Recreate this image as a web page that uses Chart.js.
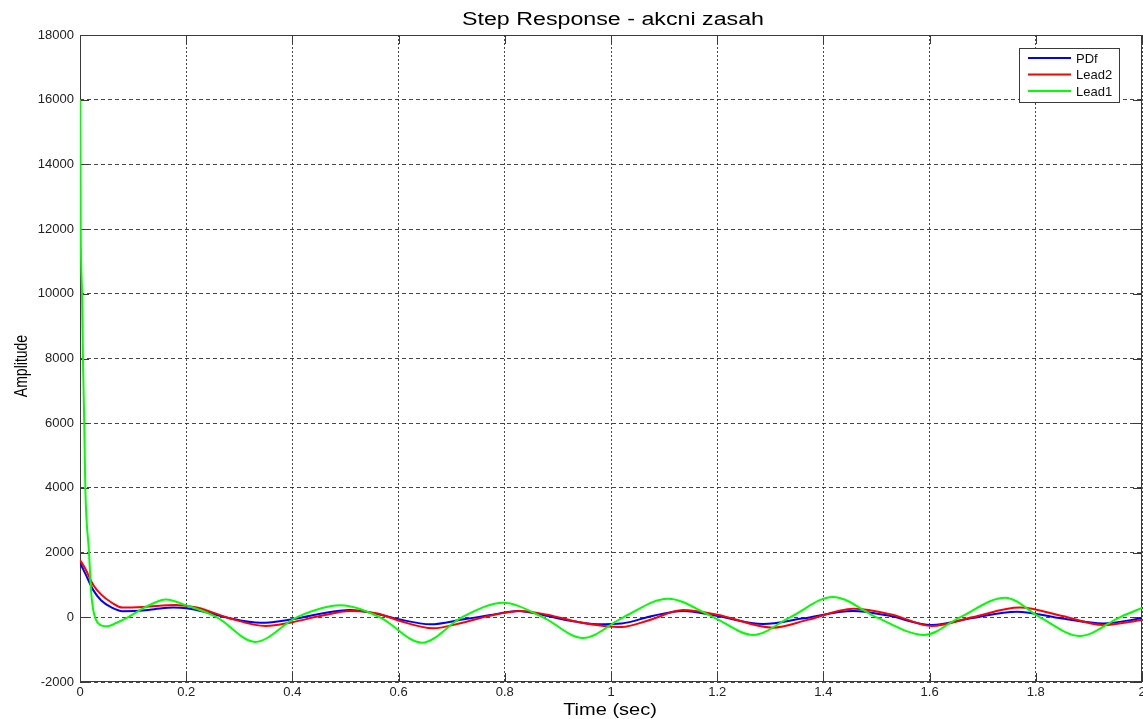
<!DOCTYPE html>
<html>
<head>
<meta charset="utf-8">
<script src="https://cdn.jsdelivr.net/npm/chart.js@4.4.1/dist/chart.umd.min.js"></script>
<style>
  html, body { margin: 0; padding: 0; background: #fff; }
  #wrap { width: 1143px; height: 719px; }
</style>
</head>
<body>
<div id="wrap"><canvas id="c" width="1143" height="719"></canvas></div>
<script>
// Step response of the control action for three controllers
const seriesNames = ['PDf', 'Lead2', 'Lead1'];
const seriesColors = ['#0000ff', '#ff0000', '#00ff00'];

const timePDf = [0, 0.01, 0.025, 0.04, 0.06, 0.08, 0.11, 0.14, 0.176, 0.2, 0.24, 0.28, 0.34, 0.4, 0.45, 0.508, 0.56, 0.6, 0.66, 0.72, 0.77, 0.825, 0.87, 0.91, 0.975, 1.02, 1.08, 1.136, 1.2, 1.287, 1.36, 1.456, 1.52, 1.604, 1.68, 1.764, 1.85, 1.927, 2.0];
const ampPDf = [1680, 1350, 840, 520, 300, 190, 200, 250, 300, 280, 150, -20, -170, -60, 100, 225, 100, -60, -215, -70, 60, 195, 80, -70, -215, -190, 50, 195, 40, -210, -40, 195, 60, -240, -20, 175, -40, -190, -30];

const timeLead2 = [0, 0.01, 0.025, 0.04, 0.06, 0.08, 0.12, 0.18, 0.22, 0.28, 0.35, 0.4, 0.45, 0.51, 0.56, 0.6, 0.665, 0.72, 0.77, 0.83, 0.88, 0.94, 1.02, 1.07, 1.136, 1.2, 1.305, 1.37, 1.456, 1.53, 1.604, 1.68, 1.77, 1.85, 1.927, 2.0];
const ampLead2 = [1770, 1500, 1000, 700, 450, 300, 320, 380, 300, -20, -270, -150, 30, 195, 120, -100, -340, -170, 40, 195, 80, -150, -300, -100, 225, 80, -320, -80, 265, 80, -270, 0, 300, 40, -240, -80];

const timeLead1 = [0, 0.0013, 0.0038, 0.0056, 0.008, 0.010, 0.017, 0.0207, 0.025, 0.034, 0.05, 0.07, 0.09, 0.125, 0.162, 0.2, 0.258, 0.33, 0.408, 0.49, 0.565, 0.644, 0.719, 0.797, 0.872, 0.947, 1.023, 1.107, 1.193, 1.268, 1.337, 1.418, 1.5, 1.59, 1.657, 1.742, 1.808, 1.883, 1.958, 2.0];
const ampLead1 = [16000, 12000, 10000, 8000, 6000, 4000, 2000, 845, 225, -180, -280, -160, 0, 330, 550, 370, 0, -760, 0, 370, 0, -785, 0, 450, 0, -640, 0, 575, 0, -545, 0, 630, 0, -545, 0, 605, 0, -580, 0, 290];

const xTicks = [0, 0.2, 0.4, 0.6, 0.8, 1, 1.2, 1.4, 1.6, 1.8, 2];
const yTicks = [-2000, 0, 2000, 4000, 6000, 8000, 10000, 12000, 14000, 16000, 18000];

const titleText = 'Step Response - akcni zasah';
const xLabel = 'Time (sec)';
const yLabel = 'Amplitude';

const FONT = '"Liberation Sans", Arial, Helvetica, sans-serif';
const AXIS_COLOR = '#3a3a3a';

function points(ts, vs) { return ts.map((t, i) => ({ x: t, y: vs[i] })); }

// Box around the axes plus inward tick marks on all four sides
const axesBox = {
  id: 'axesBox',
  beforeDatasetsDraw(chart) {
    const { ctx, chartArea: a, scales } = chart;
    ctx.save();
    ctx.strokeStyle = AXIS_COLOR;
    ctx.lineWidth = 1;
    ctx.setLineDash([]);
    ctx.strokeRect(a.left + 0.5, a.top + 0.5, a.right - a.left - 1, a.bottom - a.top - 1);
    const len = 9;
    ctx.beginPath();
    xTicks.forEach(v => {
      const px = Math.round(scales.x.getPixelForValue(v)) + 0.5;
      ctx.moveTo(px, a.bottom); ctx.lineTo(px, a.bottom - len);
      ctx.moveTo(px, a.top); ctx.lineTo(px, a.top + len);
    });
    yTicks.forEach(v => {
      const py = Math.round(scales.y.getPixelForValue(v)) + 0.5;
      ctx.moveTo(a.left, py); ctx.lineTo(a.left + len, py);
      ctx.moveTo(a.right, py); ctx.lineTo(a.right - len, py);
    });
    ctx.stroke();
    ctx.restore();
  }
};

// Title, axis titles and the legend box
const annotations = {
  id: 'annotations',
  afterDraw(chart) {
    const { ctx } = chart;
    ctx.save();
    ctx.fillStyle = '#000';

    // title
    ctx.save();
    ctx.translate(613, 25);
    ctx.scale(1.29, 1);
    ctx.font = '18px ' + FONT;
    ctx.textAlign = 'center';
    ctx.textBaseline = 'alphabetic';
    ctx.fillText(titleText, 0, 0);
    ctx.restore();

    // x axis title
    ctx.save();
    ctx.translate(610, 715);
    ctx.scale(1.25, 1);
    ctx.font = '16px ' + FONT;
    ctx.textAlign = 'center';
    ctx.textBaseline = 'alphabetic';
    ctx.fillText(xLabel, 0, 0);
    ctx.restore();

    // y axis title
    ctx.save();
    ctx.translate(27, 366);
    ctx.rotate(-Math.PI / 2);
    ctx.scale(1, 1.35);
    ctx.font = '14px ' + FONT;
    ctx.textAlign = 'center';
    ctx.textBaseline = 'alphabetic';
    ctx.fillText(yLabel, 0, 0);
    ctx.restore();

    // legend
    const bx = 1019, by = 48, bw = 100, bh = 54;
    ctx.fillStyle = '#fff';
    ctx.fillRect(bx, by, bw, bh);
    ctx.strokeStyle = AXIS_COLOR;
    ctx.lineWidth = 1;
    ctx.strokeRect(bx + 0.5, by + 0.5, bw, bh);
    const rows = [58, 74.5, 91];
    ctx.font = '13px ' + FONT;
    ctx.textAlign = 'left';
    ctx.textBaseline = 'middle';
    seriesNames.forEach((name, i) => {
      ctx.strokeStyle = seriesColors[i];
      ctx.lineWidth = 2;
      ctx.beginPath();
      ctx.moveTo(1028, rows[i]);
      ctx.lineTo(1071, rows[i]);
      ctx.stroke();
      ctx.fillStyle = '#111';
      ctx.fillText(name, 1076, rows[i] + 1);
    });
    ctx.restore();
  }
};

const seriesTimes = [timePDf, timeLead2, timeLead1];
const seriesAmps = [ampPDf, ampLead2, ampLead1];

new Chart(document.getElementById('c'), {
  type: 'line',
  data: {
    datasets: seriesNames.map((name, i) => ({
      label: name,
      data: points(seriesTimes[i], seriesAmps[i]),
      borderColor: seriesColors[i],
      backgroundColor: seriesColors[i],
      borderWidth: 2,
      pointRadius: 0,
      fill: false,
      cubicInterpolationMode: 'monotone',
      order: 2 - i
    }))
  },
  options: {
    responsive: false,
    animation: false,
    devicePixelRatio: 1,
    layout: { padding: { top: 35, right: 1, left: 0, bottom: 0 } },
    plugins: {
      legend: { display: false },
      title: { display: false },
      tooltip: { enabled: false }
    },
    scales: {
      x: {
        type: 'linear',
        min: 0,
        max: 2,
        afterBuildTicks(scale) { scale.ticks = xTicks.map(v => ({ value: v })); },
        afterFit(scale) {
          scale.height = 37;
          scale.paddingLeft = 0;
          scale.paddingRight = 0;
        },
        ticks: {
          color: '#222',
          font: { family: FONT, size: 13 },
          padding: 3,
          maxRotation: 0,
          autoSkip: false,
          callback: v => String(Number(v.toFixed(1)))
        },
        grid: { color: 'rgba(40,40,40,0.85)', lineWidth: 1, drawTicks: false },
        border: { display: false, dash: [2, 2] }
      },
      y: {
        type: 'linear',
        min: -2000,
        max: 18000,
        afterBuildTicks(scale) { scale.ticks = yTicks.map(v => ({ value: v })); },
        afterFit(scale) {
          scale.width = 80;
          scale.paddingTop = 0;
          scale.paddingBottom = 0;
        },
        ticks: {
          color: '#222',
          font: { family: FONT, size: 13 },
          padding: 6,
          autoSkip: false,
          callback: v => String(v)
        },
        grid: { color: 'rgba(40,40,40,0.85)', lineWidth: 1, drawTicks: false },
        border: { display: false, dash: [4, 3] }
      }
    }
  },
  plugins: [axesBox, annotations]
});
</script>
</body>
</html>
